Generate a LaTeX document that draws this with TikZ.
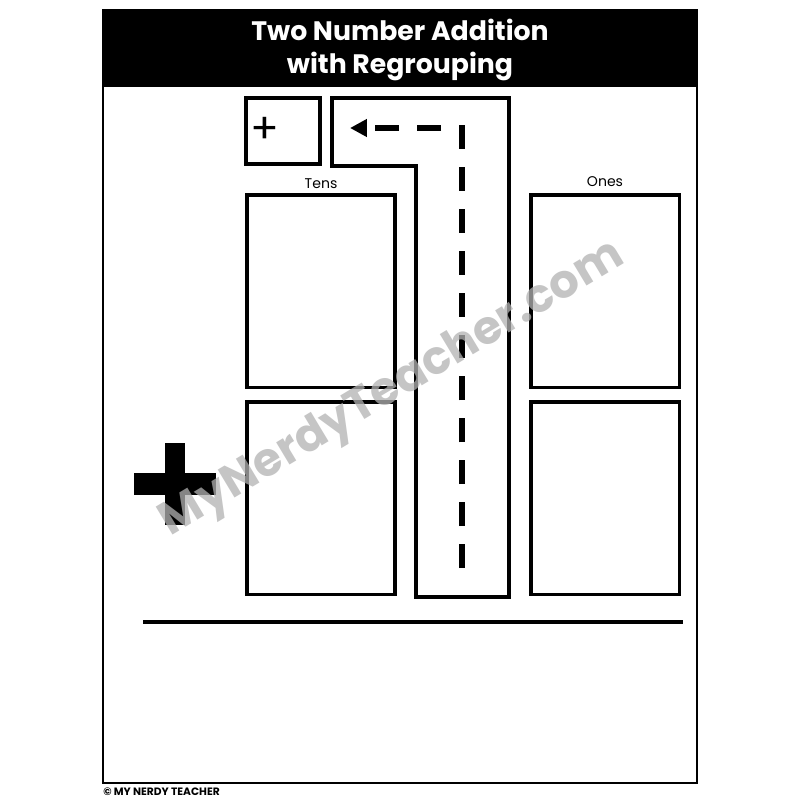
\documentclass[tikz,border=0pt]{standalone}
\usepackage{fontspec}
\setmainfont{Poppins}
\usetikzlibrary{arrows.meta, positioning}

\begin{document}
\begin{tikzpicture}[x=0.025cm, y=-0.025cm,
    box/.style={draw, line width=2.2pt, inner sep=0pt, outer sep=0pt, minimum width=3.7cm, minimum height=4.8cm, anchor=north west},
    colhead/.style={font=\fontsize{10}{12}\selectfont, inner sep=1pt},
    road/.style={draw, line width=2.4pt, line join=miter}]

            % Vẽ nền
            \useasboundingbox[fill=white] (0,0) rectangle (800,800);

            % Vẽ khung và tiêu đề
            \fill[black] (103,10) rectangle (697,87);
            \draw[line width=1.5pt] (103,10) rectangle (697,783);
            \node[text=white, align=center, font=\bfseries\fontsize{19}{24}\selectfont] (title) at (400,50) {Two Number Addition\\with Regrouping};

            % Vẽ ô nhớ
            \node[draw, line width=2.2pt, inner sep=0pt, outer sep=0pt, minimum width=1.85cm, minimum height=1.65cm, anchor=north west] (carry) at (246,98) {};
            \node[font=\fontsize{30}{30}\selectfont, inner sep=0pt] (carryplus) at (265,130) {+};

            % Vẽ đường hàng chục
            \draw[road] (332,98) -- (509,98) -- (509,597) -- (416,597) -- (416,166) -- (332,166) -- cycle;
            \draw[line width=4.3pt, dash pattern=on 17pt off 12.8pt, -{Triangle[length=12pt, width=12pt]}] (462,568) -- (462,128) -- (350,128);

            % Vẽ các ô
            \node[box] (tensTop) at (247,195) {};
            \node[box] (tensBot) at (247,402) {};
            \node[box] (onesTop) at (531,195) {};
            \node[box] (onesBot) at (531,402) {};
            \node[colhead, above=3pt of tensTop] (tens) {Tens};
            \node[colhead, above=5pt of onesTop] (ones) {Ones};

            % Vẽ dấu cộng
            \fill (165,443) rectangle (185,525);
            \fill (134,473) rectangle (216,495);

            % Vẽ đường kẻ
            \draw[line width=2.6pt] (143,622) -- (683,622);

            % Vẽ chữ chìm
            \node[rotate=31, text=gray!60, opacity=0.75, font=\bfseries\fontsize{33}{33}\selectfont] (mark) at (393,390) {MyNerdyTeacher.com};

            % Vẽ bản quyền
            \node[anchor=west, inner sep=0pt, font=\bfseries\fontsize{7.6}{8}\selectfont] (copy) at (103,792) {© MY NERDY TEACHER};

\end{tikzpicture}
\end{document}
